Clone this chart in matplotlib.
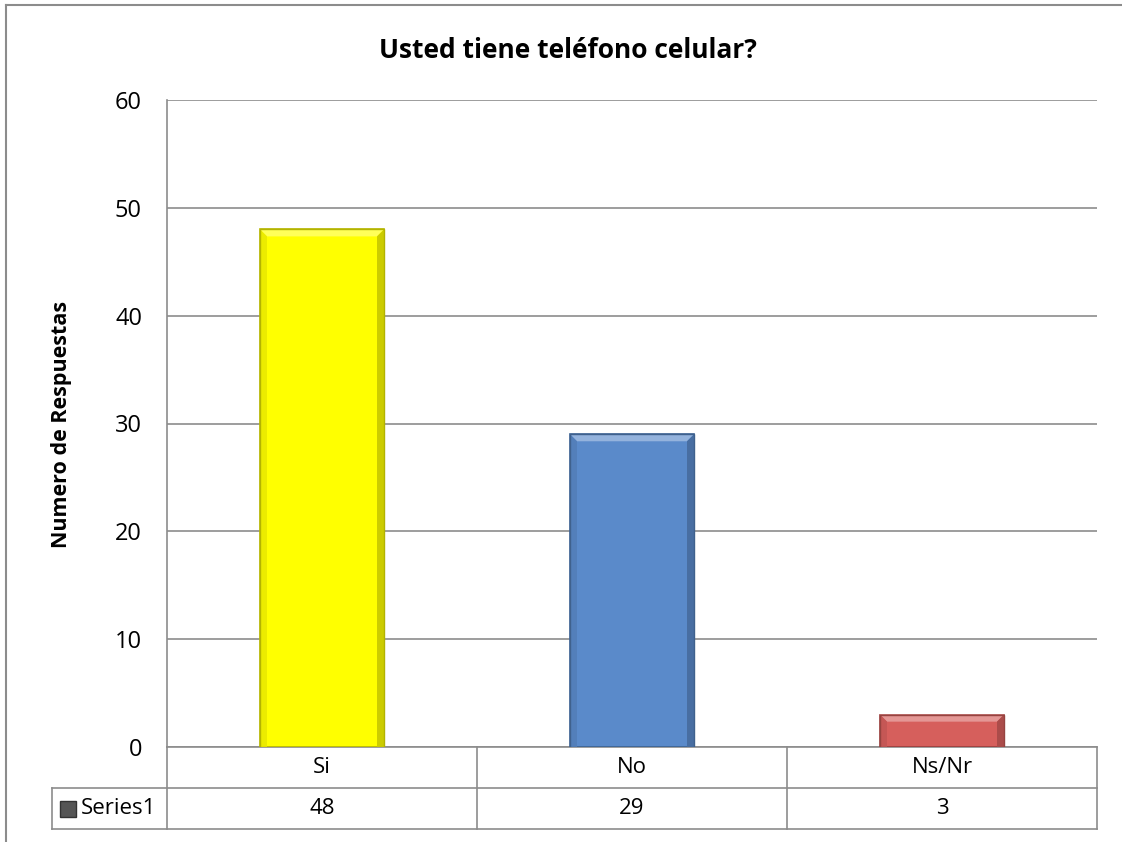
import matplotlib
matplotlib.use("Agg")
import matplotlib.pyplot as plt
import matplotlib.colors as mcolors
from matplotlib.patches import Rectangle, Polygon
from matplotlib.lines import Line2D
import numpy as np

categories = ["Si", "No", "Ns/Nr"]
values = [48, 29, 3]
series_name = "Series1"
title = "Usted tiene teléfono celular?"
ylabel = "Numero de Respuestas"

bar_colors = ["#FFFF00", "#5A8ACA", "#D65F5C"]
edge_colors = ["#B8B800", "#3D6496", "#9C3F3D"]
grid_color = "#8C8C8C"

plt.rcParams['font.family'] = ['Open Sans', 'DejaVu Sans']


def shade(c, f):
    # f > 0 lighten, f < 0 darken
    rgb = np.array(mcolors.to_rgb(c))
    if f > 0:
        rgb = rgb + (1 - rgb) * f
    else:
        rgb = rgb * (1 + f)
    return tuple(rgb)


fig = plt.figure(figsize=(11.22, 8.42), dpi=100)
ax = fig.add_axes([167/1122, 1 - 747/842, 930/1122, 647/842])

x = np.arange(len(categories))
bars = ax.bar(x, values, width=0.4, color=bar_colors, edgecolor=edge_colors, linewidth=1.2, zorder=3)

ax.set_xlim(-0.5, len(categories) - 0.5)
ax.set_ylim(0, 60)

# bevel look on the bars
bx = 7/310
by = 7/647*60
for p, c in zip(bars.patches, bar_colors):
    x0, y0 = p.get_x(), p.get_y()
    x1, y1 = x0 + p.get_width(), y0 + p.get_height()
    ax.add_patch(Polygon([(x0, y1), (x1, y1), (x1 - bx, y1 - by), (x0 + bx, y1 - by)],
                         facecolor=shade(c, 0.35), edgecolor="none", zorder=4))
    ax.add_patch(Polygon([(x0, y0), (x0, y1), (x0 + bx, y1 - by), (x0 + bx, y0)],
                         facecolor=shade(c, -0.08), edgecolor="none", zorder=4))
    ax.add_patch(Polygon([(x1, y0), (x1, y1), (x1 - bx, y1 - by), (x1 - bx, y0)],
                         facecolor=shade(c, -0.2), edgecolor="none", zorder=4))
    ax.add_patch(Rectangle((x0, y0), p.get_width(), p.get_height(), facecolor="none",
                           edgecolor=shade(c, -0.3), linewidth=1.0, zorder=5))

ax.set_yticks(range(0, 61, 10))
ax.yaxis.grid(True, color=grid_color, linewidth=1.2)
ax.set_axisbelow(True)
ax.set_xticks([])
ax.tick_params(axis='y', length=0, pad=18, labelsize=17)
for s in ["top", "right", "bottom"]:
    ax.spines[s].set_visible(False)
ax.spines["left"].set_color(grid_color)
ax.spines["left"].set_linewidth(1.2)

fig.text(61/1122, 1 - 424/842, ylabel, rotation=90, ha="center", va="center",
         fontsize=15.5, fontweight="bold")
fig.text(568/1122, 1 - 51/842, title, ha="center", va="center", fontsize=19, fontweight="bold")

# data table under the axis
tr = ax.get_xaxis_transform()
r1 = -41/647
r2 = -82/647
left = -0.5 - 115/310
kw = dict(color=grid_color, linewidth=1.2, clip_on=False, transform=tr)
ax.add_line(Line2D([-0.5, 2.5], [0, 0], **kw))
ax.add_line(Line2D([left, 2.5], [r1, r1], **kw))
ax.add_line(Line2D([left, 2.5], [r2, r2], **kw))
ax.add_line(Line2D([left, left], [r1, r2], **kw))
for b in np.arange(-0.5, len(categories), 1.0):
    ax.add_line(Line2D([b, b], [0, r2], **kw))
for i, (c, v) in enumerate(zip(categories, values)):
    ax.text(i, r1 / 2, c, transform=tr, ha="center", va="center", fontsize=16)
    ax.text(i, (r1 + r2) / 2, str(v), transform=tr, ha="center", va="center", fontsize=16)
ax.add_patch(Rectangle((left + 8/310, (r1 + r2) / 2 - 8/647), 16/310, 16/647, transform=tr,
                       facecolor="#555555", edgecolor="#333333", clip_on=False))
ax.text(left + 29/310, (r1 + r2) / 2, series_name, transform=tr, ha="left", va="center", fontsize=16)

# chart area border
fig.add_artist(Line2D([6/1122, 6/1122], [0, 1 - 5/842], color=grid_color, linewidth=1.5))
fig.add_artist(Line2D([6/1122, 1], [1 - 5/842, 1 - 5/842], color=grid_color, linewidth=1.5))

fig.savefig("out.png", dpi=100)
